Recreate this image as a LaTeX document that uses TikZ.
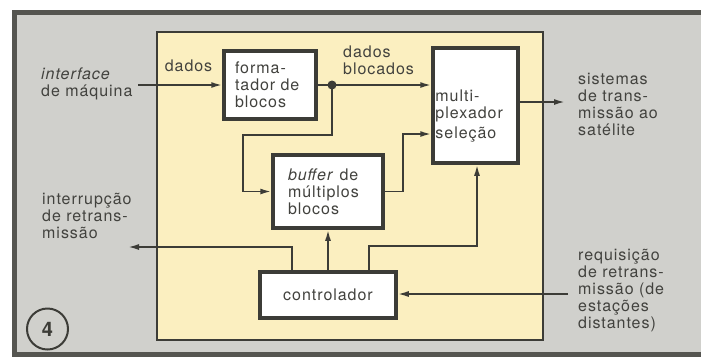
\documentclass[tikz,border=0pt]{standalone}
\usepackage{fontspec}
\setmainfont{TeX Gyre Heros}[LetterSpace=6]
\usetikzlibrary{arrows.meta,positioning,calc}
\definecolor{framegray}{RGB}{85,85,80}
\definecolor{bggray}{RGB}{208,208,204}
\definecolor{paleyellow}{RGB}{251,239,192}
\definecolor{inkgray}{RGB}{60,60,55}
\definecolor{textgray}{RGB}{66,66,62}

\begin{document}
\begin{tikzpicture}[x=1pt,y=-1pt,
  lbl/.style={text=textgray,align=left,inner sep=0pt,font=\fontsize{16}{17}\selectfont},
  blk/.style={lbl,draw=inkgray,line width=3.5pt,fill=white},
  wire/.style={draw=inkgray,line width=1.8pt},
  arr/.style={wire,-{Latex[length=11pt,width=6pt]}}]
\useasboundingbox (0,0) rectangle (701,357);
% moldura
\fill[bggray] (14,12) rectangle (701,354);
\draw[framegray,line width=5pt] (701,12.5) -| (14.5,354) -- (701,354);
\draw[inkgray,line width=1.5pt,fill=paleyellow] (157,32) rectangle (543,340);

% blocos
\node[blk,text width=70pt,minimum width=92pt,minimum height=68pt] (fmt) at (270,85) {forma-\\tador de\\blocos};
\node[blk,minimum width=85pt,minimum height=115pt] (mux) at (475.5,105.5) {};
\node[lbl,text width=78pt,anchor=west] (muxlbl) at ([xshift=4pt,yshift=-10.5pt]mux.west) {multi-\\plexador\\[3pt]seleção};
\node[blk,text width=80pt,minimum width=110pt,minimum height=73pt] (buf) at (328,191.5) {\textit{buffer} de\\múltiplos\\blocos};
\node[blk,minimum width=136pt,minimum height=46pt] (ctl) at (328,295) {controlador};

% ligacoes
\coordinate (dot) at (332,85);
\coordinate (maq) at (138,85);
\coordinate (j1) at (243,135);
\coordinate (j2) at (403,134);
\coordinate (j3) at (477,246);
\coordinate (interr) at (128,247);
\coordinate (sat) at (565,102);
\coordinate (req) at (568,294);
\draw[arr] (maq) -- (fmt.west);
\draw[wire] (fmt.east) -- (dot);
\draw[arr] (dot) -- (dot -| mux.west);
\draw[arr] (dot) |- (j1) |- (buf.west);
\draw[arr] (buf.east) -| (j2) -- (j2 -| mux.west);
\draw[arr] (ctl.north) -- (buf.south);
\draw[arr] ([xshift=-36pt]ctl.north) |- (interr);
\draw[arr] ([xshift=41pt]ctl.north) |- (j3) -- (j3 |- mux.south);
\draw[arr] (mux.east |- sat) -- (sat);
\draw[arr] (req) -- (req -| ctl.east);
\fill[inkgray] (dot) circle (4.5pt);

% textos
\node[lbl,text width=100pt,anchor=west] (maqlbl) at (41,84) {\textit{interface}\\de máquina};
\node[lbl] (dadoslbl) at (188.5,66) {dados};
\node[lbl,text width=80pt,anchor=west] (bloclbl) at (343,60) {dados\\blocados};
\node[lbl,text width=100pt,anchor=west] (satlbl) at (578,104.5) {sistemas\\de trans-\\missão ao\\satélite};
\node[lbl,text width=100pt,anchor=west] (interrlbl) at (42,216) {interrupção\\de retrans-\\missão};
\node[lbl,text width=100pt,anchor=west] (reqlbl) at (578,291) {requisição\\de retrans-\\missão (de\\estações\\distantes)};
\node[draw=inkgray,line width=2pt,circle,minimum size=41pt,inner sep=0pt,
      font=\bfseries\fontsize{20}{22}\selectfont,text=inkgray] (fignum) at (47.5,329) {4};
\end{tikzpicture}
\end{document}
